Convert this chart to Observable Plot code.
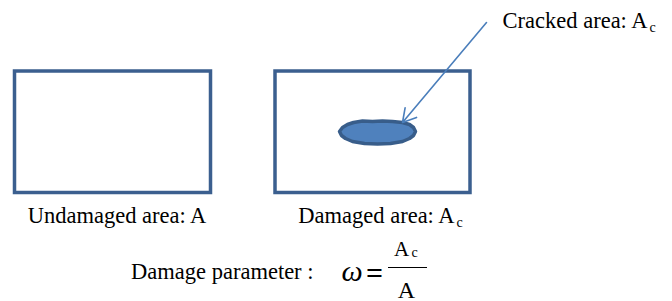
<!DOCTYPE html>
<html>
<head>
<meta charset="utf-8">
<script src="https://cdn.jsdelivr.net/npm/d3@7"></script>
<script src="https://cdn.jsdelivr.net/npm/@observablehq/plot@0.6"></script>
<style>
  html, body { margin: 0; padding: 0; background: #fff; }
  svg { display: block; }
</style>
</head>
<body>
<div id="chart"></div>
<script>
// Diagram geometry in picture coordinates (x: 0–672, y: 0–301, y downward)
const boxNames  = ["Undamaged", "Damaged"];
const boxLeft   = [14.5, 275];
const boxRight  = [210.5, 470];
const boxTop    = [71, 71];
const boxBottom = [192.5, 192.5];

// Crack outline (closed polygon)
const crackX = [339, 342, 347, 353, 362, 372, 382, 392, 402, 409, 413, 415, 413, 409, 402, 390, 377, 364, 352, 345, 341, 339];
const crackY = [131, 127, 124, 122, 120.5, 121, 120.5, 121, 122, 124, 127, 131, 135, 138, 141, 143, 143.5, 143, 141, 138, 135, 131];

// Arrow pointing to crack
const arrowFrom = [486, 22];
const arrowTo   = [402, 122];

// Text labels
const labelText   = ["Cracked area: A", "Undamaged area: A", "Damaged area: A", "Damage parameter :"];
const labelX      = [647, 116.5, 454, 313];
const labelY      = [27, 222, 222, 278];
const labelAnchor = ["end", "middle", "end", "end"];

const subText = ["c", "c", "c"];
const subX    = [649, 456, 411];
const subY    = [31, 226, 256];

// Formula pieces
const omega = "ω", equals = "=", numer = "A", denom = "A";
const fracLine = {x1: 388, x2: 427, y: 267};

const rects = boxNames.map((n, i) => ({n, x1: boxLeft[i], x2: boxRight[i], y1: boxTop[i], y2: boxBottom[i]}));
const crack = crackX.map((x, i) => ({x, y: crackY[i]}));
const labels = labelText.map((t, i) => ({t, x: labelX[i], y: labelY[i], a: labelAnchor[i]}));
const subs = subText.map((t, i) => ({t, x: subX[i], y: subY[i]}));

const serif = "Liberation Serif";
const boxColor = "#3B5F8F";
const T = {fontFamily: serif, fill: "#000", lineAnchor: "bottom"};

const plot = Plot.plot({
  width: 672,
  height: 301,
  margin: 0,
  x: {domain: [0, 672], range: [0, 672], axis: null},
  y: {domain: [0, 301], range: [0, 301], axis: null},
  style: {"font-family": serif, "background": "#fff", "color": "#000", "overflow": "visible"},
  marks: [
    Plot.rect(rects, {x1: "x1", x2: "x2", y1: "y1", y2: "y2", fill: "none", stroke: boxColor, strokeWidth: 3.5}),
    Plot.line(crack, {x: "x", y: "y", fill: "#4F81BD", stroke: "#385D8A", strokeWidth: 3.5, curve: "linear-closed"}),
    Plot.arrow([{}], {x1: () => arrowFrom[0], y1: () => arrowFrom[1], x2: () => arrowTo[0], y2: () => arrowTo[1],
      stroke: "#4A7EBB", strokeWidth: 1.6, headLength: 14, bend: 0}),
    ...["start", "middle", "end"].map(a =>
      Plot.text(labels.filter(d => d.a === a), {...T, x: "x", y: "y", text: "t", textAnchor: a, fontSize: 22.5})),
    Plot.text(subs, {...T, x: "x", y: "y", text: "t", textAnchor: "start", fontSize: 14}),
    Plot.text([omega], {...T, x: () => 351.5, y: () => 280, text: d => d, textAnchor: "middle",
      fontSize: 30, fontStyle: "italic"}),
    Plot.text([equals], {...T, x: () => 374, y: () => 282, text: d => d, textAnchor: "middle",
      fontSize: 30, fontWeight: "bold"}),
    Plot.text([numer], {...T, x: () => 401, y: () => 255, text: d => d, textAnchor: "middle", fontSize: 21}),
    Plot.text([denom], {...T, x: () => 406, y: () => 297, text: d => d, textAnchor: "middle", fontSize: 24}),
    Plot.ruleY([fracLine], {y: "y", x1: "x1", x2: "x2", stroke: "#000", strokeWidth: 1.2})
  ]
});
document.getElementById("chart").appendChild(plot);
</script>
</body>
</html>
